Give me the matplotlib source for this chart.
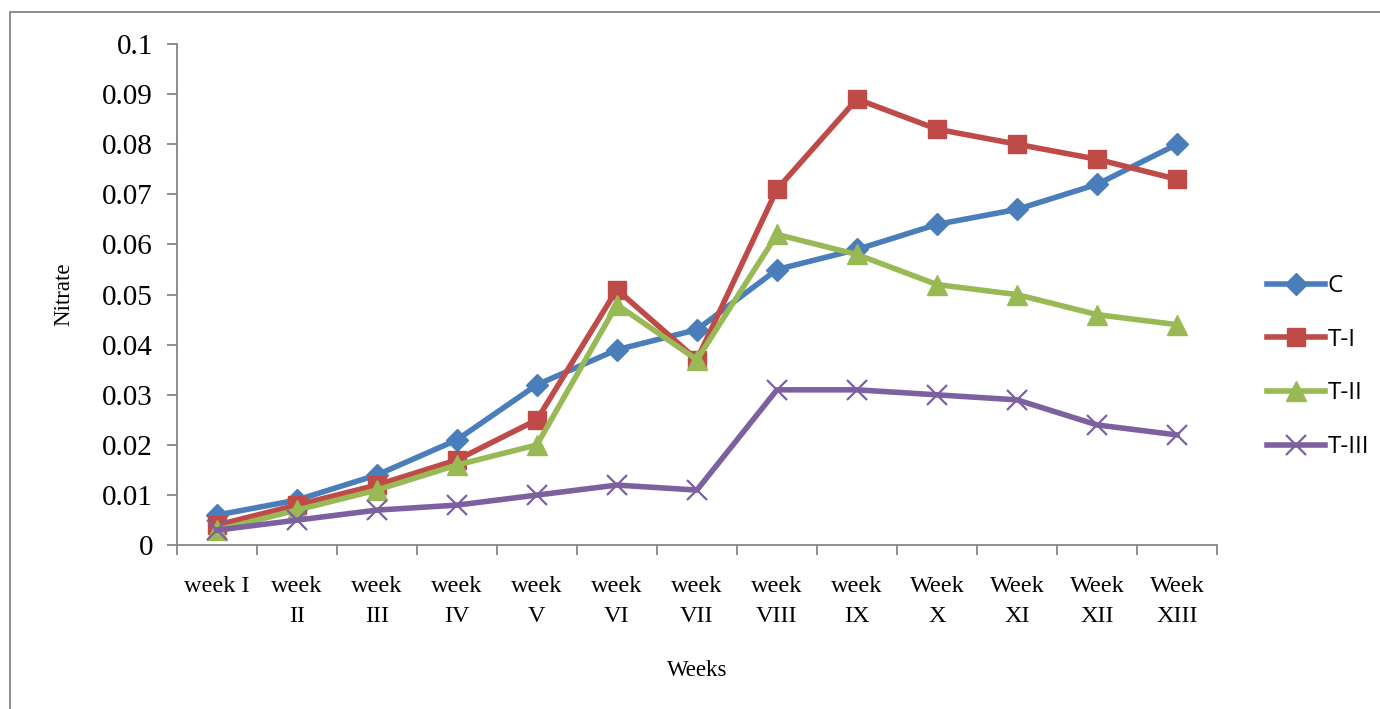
import numpy as np
import matplotlib.pyplot as plt
from matplotlib.patches import Rectangle

weeks = ['week I', 'week\nII', 'week\nIII', 'week\nIV', 'week\nV', 'week\nVI', 'week\nVII',
         'week\nVIII', 'week\nIX', 'Week\nX', 'Week\nXI', 'Week\nXII', 'Week\nXIII']
c_vals = [0.006, 0.009, 0.014, 0.021, 0.032, 0.039, 0.043, 0.055, 0.059, 0.064, 0.067, 0.072, 0.080]
t1_vals = [0.004, 0.008, 0.012, 0.017, 0.025, 0.051, 0.037, 0.071, 0.089, 0.083, 0.080, 0.077, 0.073]
t2_vals = [0.003, 0.007, 0.011, 0.016, 0.020, 0.048, 0.037, 0.062, 0.058, 0.052, 0.050, 0.046, 0.044]
t3_vals = [0.003, 0.005, 0.007, 0.008, 0.010, 0.012, 0.011, 0.031, 0.031, 0.030, 0.029, 0.024, 0.022]

fig = plt.figure(figsize=(13.8, 7.09), dpi=100)
ax = fig.add_axes([0.128, 0.231, 0.754, 0.707])

x = np.arange(len(weeks))
ax.plot(x, c_vals, color='#4A7EBB', lw=4, marker='D', ms=11, label='C')
ax.plot(x, t1_vals, color='#BE4B48', lw=4, marker='s', ms=13, label='T-I')
ax.plot(x, t2_vals, color='#98B954', lw=4, marker='^', ms=14, label='T-II')
ax.plot(x, t3_vals, color='#7D60A0', lw=4, marker='x', ms=14, mew=1.6, label='T-III')

ax.set_xlim(-0.5, len(weeks) - 0.5)
ax.set_ylim(0, 0.1)
ax.set_yticks(np.arange(0, 0.101, 0.01))
ax.set_yticklabels(['0', '0.01', '0.02', '0.03', '0.04', '0.05', '0.06', '0.07', '0.08', '0.09', '0.1'],
                   fontfamily='Liberation Serif', fontsize=21)
ax.set_xticks(x)
ax.set_xticklabels(weeks, fontfamily='Liberation Serif', fontsize=17.5, linespacing=1.55)
ax.set_xticks(np.arange(-0.5, len(weeks)), minor=True)
ax.tick_params(axis='x', which='major', length=0, pad=22)
ax.tick_params(axis='x', which='minor', length=7, color='#868686', width=1.3)
ax.tick_params(axis='y', length=7, color='#868686', width=1.3, pad=10)

for s in ['top', 'right']:
    ax.spines[s].set_visible(False)
for s in ['left', 'bottom']:
    ax.spines[s].set_color('#868686')
    ax.spines[s].set_linewidth(1.3)

ax.set_ylabel('Nitrate', fontfamily='Liberation Serif', fontsize=16.5, labelpad=20)
ax.set_xlabel('Weeks', fontfamily='Liberation Serif', fontsize=16.5, labelpad=24)

fig.legend(loc='center left', bbox_to_anchor=(0.902, 0.483), frameon=False,
           prop={'family': 'Open Sans', 'size': 17.5}, labelspacing=1.22,
           handlelength=2.4, handletextpad=0.1)

fig.patches.append(Rectangle((0.0072, -0.1), 1.1, 1.083, transform=fig.transFigure,
                             fill=False, edgecolor='#868686', lw=1.3))

fig.savefig('out.png', dpi=100)
